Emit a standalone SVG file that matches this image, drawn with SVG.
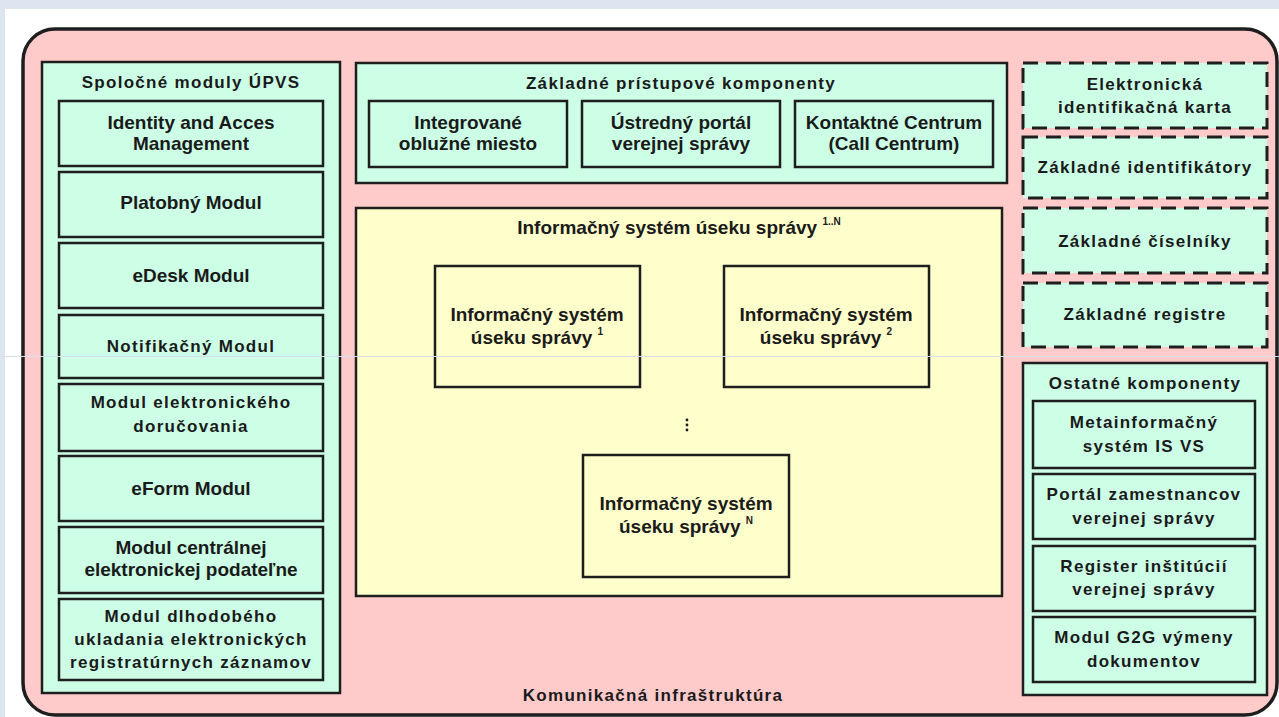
<svg xmlns="http://www.w3.org/2000/svg" width="1279" height="717" viewBox="0 0 1279 717">
<style>
.box{fill:#ccffe6;stroke:#1e1e1e;stroke-width:2.5}
.dash{fill:#ccffe6;stroke:#1e1e1e;stroke-width:3;stroke-dasharray:15 8}
.yel{fill:#ffffcc;stroke:#1e1e1e;stroke-width:2.5}
text{font-family:"Liberation Sans",Arial,sans-serif;font-weight:bold;fill:#1a1a1a;text-anchor:middle}
.t{font-size:17px;letter-spacing:1.3px}
.b{font-size:19px}
.sup{font-size:10px}
</style>
<rect x="0" y="0" width="1279" height="717" fill="#ffffff"/>
<rect x="0" y="0" width="1279" height="9" fill="#dce5f0"/>
<rect x="0" y="0" width="5" height="717" fill="#dce5f0"/>
<g id="komunikacna-infrastruktura">
<rect x="23" y="29" width="1254" height="686" rx="32" ry="32" fill="#ffcaca" stroke="#1e1e1e" stroke-width="3.5"/>
<text class="t" x="653" y="701">Komunikačná infraštruktúra</text>
</g>
<g id="spolocne-moduly">
<rect class="box" x="42" y="62" width="298" height="631"/>
<text class="t" x="191" y="88">Spoločné moduly ÚPVS</text>
</g>
<g id="iam"><rect class="box" x="59" y="101" width="264" height="65"/><text class="b" x="191" y="129">Identity and Acces</text><text class="b" x="191" y="150">Management</text></g>
<g id="platobny"><rect class="box" x="59" y="172" width="264" height="65"/><text class="b" x="191" y="209">Platobný Modul</text></g>
<g id="edesk"><rect class="box" x="59" y="243" width="264" height="65"/><text class="b" x="191" y="282">eDesk Modul</text></g>
<g id="notifikacny"><rect class="box" x="59" y="315" width="264" height="63"/><text class="t" x="191" y="352">Notifikačný Modul</text></g>
<g id="dorucovanie"><rect class="box" x="59" y="384" width="264" height="67"/><text class="t" x="191" y="408">Modul elektronického</text><text class="t" x="191" y="432">doručovania</text></g>
<g id="eform"><rect class="box" x="59" y="456" width="264" height="65"/><text class="b" x="191" y="495">eForm Modul</text></g>
<g id="podatelna"><rect class="box" x="59" y="527" width="264" height="66"/><text class="b" x="191" y="554">Modul centrálnej</text><text class="b" x="191" y="576">elektronickej podateľne</text></g>
<g id="dlhodobe"><rect class="box" x="59" y="599" width="264" height="81"/><text class="t" x="191" y="622">Modul dlhodobého</text><text class="t" x="191" y="645">ukladania elektronických</text><text class="t" x="191" y="668">registratúrnych záznamov</text></g>

<g id="pristupove">
<rect class="box" x="356" y="63" width="651" height="120"/>
<text class="t" x="681" y="89">Základné prístupové komponenty</text>
</g>
<g id="iom"><rect class="box" x="369" y="101" width="198" height="66"/><text class="b" x="468" y="129">Integrované</text><text class="b" x="468" y="150">oblužné miesto</text></g>
<g id="upvs"><rect class="box" x="582" y="101" width="198" height="66"/><text class="b" x="681" y="129">Ústredný portál</text><text class="b" x="681" y="150">verejnej správy</text></g>
<g id="kontaktne"><rect class="box" x="795" y="101" width="198" height="66"/><text class="b" x="894" y="129">Kontaktné Centrum</text><text class="b" x="894" y="150">(Call Centrum)</text></g>

<g id="is-useku">
<rect class="yel" x="356" y="208" width="646" height="388"/>
<text class="b" x="679" y="234">Informačný systém úseku správy <tspan class="sup" dy="-9">1..N</tspan></text>
<g fill="#1a1a1a"><circle cx="687" cy="420" r="1.4"/><circle cx="687" cy="425" r="1.4"/><circle cx="687" cy="430" r="1.4"/></g>
</g>
<g id="is1"><rect class="yel" x="435" y="266" width="205" height="121"/><text class="b" x="537" y="321">Informačný systém</text><text class="b" x="537" y="344">úseku správy <tspan class="sup" dy="-9">1</tspan></text></g>
<g id="is2"><rect class="yel" x="724" y="266" width="205" height="121"/><text class="b" x="826" y="321">Informačný systém</text><text class="b" x="826" y="344">úseku správy <tspan class="sup" dy="-9">2</tspan></text></g>
<g id="isn"><rect class="yel" x="583" y="455" width="206" height="122"/><text class="b" x="686" y="510">Informačný systém</text><text class="b" x="686" y="533">úseku správy <tspan class="sup" dy="-9">N</tspan></text></g>

<g id="eid"><rect class="dash" x="1023" y="63" width="244" height="65"/><text class="t" x="1145" y="90">Elektronická</text><text class="t" x="1145" y="113">identifikačná karta</text></g>
<g id="identifikatory"><rect class="dash" x="1023" y="137" width="244" height="61"/><text class="t" x="1145" y="173">Základné identifikátory</text></g>
<g id="ciselniky"><rect class="dash" x="1023" y="208" width="244" height="65"/><text class="t" x="1145" y="247">Základné číselníky</text></g>
<g id="registre"><rect class="dash" x="1023" y="283" width="244" height="64"/><text class="t" x="1145" y="320">Základné registre</text></g>

<g id="ostatne">
<rect class="box" x="1023" y="363" width="244" height="332"/>
<text class="t" x="1145" y="389">Ostatné komponenty</text>
</g>
<g id="metais"><rect class="box" x="1033" y="401" width="222" height="67"/><text class="t" x="1144" y="428">Metainformačný</text><text class="t" x="1144" y="452">systém IS VS</text></g>
<g id="portal-zam"><rect class="box" x="1033" y="474" width="222" height="65"/><text class="t" x="1144" y="500">Portál zamestnancov</text><text class="t" x="1144" y="524">verejnej správy</text></g>
<g id="register-inst"><rect class="box" x="1033" y="546" width="222" height="65"/><text class="t" x="1144" y="572">Register inštitúcií</text><text class="t" x="1144" y="595">verejnej správy</text></g>
<g id="g2g"><rect class="box" x="1033" y="617" width="222" height="65"/><text class="t" x="1144" y="643">Modul G2G výmeny</text><text class="t" x="1144" y="667">dokumentov</text></g>

<g id="connectors"></g>
<line x1="0" y1="356.5" x2="1279" y2="356.5" stroke="#d6e0ec" stroke-width="1"/>
</svg>
